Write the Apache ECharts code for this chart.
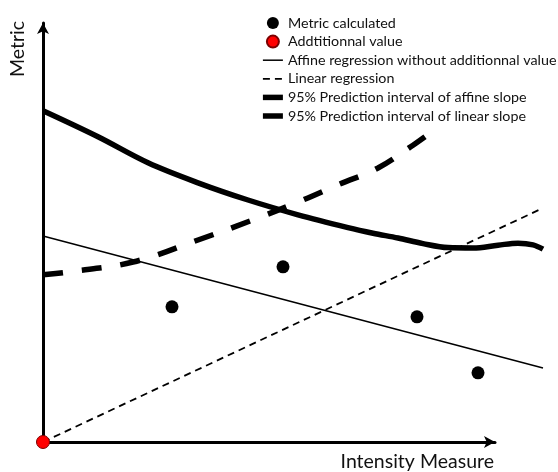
<!DOCTYPE html>
<html>
<head>
<meta charset="utf-8">
<style>
  html, body { margin: 0; padding: 0; background: #fff; }
  #chart { width: 558px; height: 472px; }
</style>
<script src="https://cdn.jsdelivr.net/npm/echarts@6/dist/echarts.min.js"></script>
</head>
<body>
<div id="chart"></div>
<script>
// Measured metric values (intensity measure, metric)
const metricX = [2.58, 4.8, 7.48, 8.7];
const metricY = [3.38, 4.38, 3.13, 1.73];

// Additional value at the origin
const extraX = [0];
const extraY = [0];

// Affine regression fitted without the additional value
const affineX = [0, 10];
const affineY = [5.15, 1.85];

// Linear regression through the origin
const linearX = [0, 10];
const linearY = [0, 5.85];

// 95% prediction interval bound of the affine slope
const piAffineX = [0, 1.1, 2.1, 3.1, 4.1, 5.1, 6.1, 6.6, 7.1, 7.6, 8.1, 8.6, 9.1, 9.5, 9.8, 10];
const piAffineY = [8.28, 7.63, 6.98, 6.48, 6.05, 5.68, 5.36, 5.22, 5.1, 4.96, 4.86, 4.85, 4.92, 4.97, 4.93, 4.82];

// 95% prediction interval bound of the linear slope
const piLinearX = [0, 0.5, 1.8, 3.1, 4.3, 5.2, 5.9, 6.7, 7.4, 7.64];
const piLinearY = [4.18, 4.25, 4.5, 5.05, 5.6, 6.05, 6.43, 6.85, 7.42, 7.63];

// Legend labels
const names = [
  'Metric calculated',
  'Addtitionnal value',
  'Affine regression without additionnal value',
  'Linear regression',
  '95% Prediction interval of affine slope',
  '95% Prediction interval of linear slope'
];

// Stroke styles shared by the series and their legend entries
const styleAffine = { color: '#000', width: 1.5, type: 'solid' };
const styleLinear = { color: '#000', width: 1.8, type: [7, 5] };
const stylePiAffine = { color: '#000', width: 5.5, type: 'solid' };
const stylePiLinear = { color: '#000', width: 5.5, type: [20, 19] };

// thick bar used as legend key for the prediction interval bounds
const THICK_KEY = 'path://M0,0L20,0L20,5.5L0,5.5Z';

const zip = (xs, ys) => xs.map((x, i) => [x, ys[i]]);
const FONT = 'Lato';

const chart = echarts.init(document.getElementById('chart'), null, { renderer: 'canvas' });

const hiddenAxis = {
  type: 'value', min: 0, max: 10,
  axisLine: { show: false }, axisTick: { show: false },
  axisLabel: { show: false }, splitLine: { show: false }
};

// thin line entries in the legend show only their stroke, no marker
const lineEntry = (name, ls) => ({ name, itemStyle: { opacity: 0 }, lineStyle: ls });

// legend key holder: shares the curve's name so the legend toggles both
const keySeries = (name) => ({
  name, type: 'scatter', data: [], symbol: THICK_KEY,
  itemStyle: { color: '#000', opacity: 1 }
});

chart.setOption({
  animation: false,
  backgroundColor: '#fff',
  color: ['#000'],
  grid: [
    // plotting area
    { left: 43, right: 15, top: 42, bottom: 30 },
    // arrowed axes
    { left: 43, right: 63, top: 23, bottom: 30 }
  ],
  xAxis: [
    Object.assign({ gridIndex: 0 }, hiddenAxis),
    {
      gridIndex: 1, type: 'value', min: 0, max: 1,
      axisLine: { show: true, symbol: ['none', 'arrow'], symbolSize: [9, 11],
        lineStyle: { color: '#000', width: 3 } },
      axisTick: { show: false }, axisLabel: { show: false }, splitLine: { show: false },
      name: 'Intensity Measure', nameLocation: 'end', nameGap: -1,
      nameTextStyle: { fontFamily: FONT, fontSize: 19.5, color: '#111',
        align: 'right', verticalAlign: 'top', padding: [10, 0, 0, 0] }
    }
  ],
  yAxis: [
    Object.assign({ gridIndex: 0 }, hiddenAxis),
    {
      gridIndex: 1, type: 'value', min: 0, max: 1,
      axisLine: { show: true, symbol: ['none', 'arrow'], symbolSize: [9, 11],
        lineStyle: { color: '#000', width: 3 } },
      axisTick: { show: false }, axisLabel: { show: false }, splitLine: { show: false },
      name: 'Metric', nameLocation: 'end', nameRotate: 90, nameGap: -26,
      nameTextStyle: { fontFamily: FONT, fontSize: 19.5, color: '#111',
        align: 'center', verticalAlign: 'bottom', padding: [0, 0, 15, 0] }
    }
  ],
  legend: {
    orient: 'vertical', left: 257, top: 11,
    itemWidth: 20, itemHeight: 12, itemGap: 4.6,
    symbolKeepAspect: true,
    textStyle: { fontFamily: FONT, fontSize: 14.3, lineHeight: 14, color: '#111' },
    data: [
      names[0],
      names[1],
      lineEntry(names[2], styleAffine),
      lineEntry(names[3], styleLinear),
      { name: names[4], icon: THICK_KEY },
      { name: names[5], icon: THICK_KEY }
    ]
  },
  series: [
    keySeries(names[4]),
    keySeries(names[5]),
    {
      name: names[2], type: 'line', data: zip(affineX, affineY),
      symbol: 'none', itemStyle: { color: '#000' },
      lineStyle: styleAffine, z: 3
    },
    {
      name: names[3], type: 'line', data: zip(linearX, linearY),
      symbol: 'none', itemStyle: { color: '#000' },
      lineStyle: styleLinear, z: 3
    },
    {
      name: names[4], type: 'line', data: zip(piAffineX, piAffineY),
      symbol: 'none', smooth: 0.35, itemStyle: { color: '#000' },
      lineStyle: stylePiAffine, z: 3
    },
    {
      name: names[5], type: 'line', data: zip(piLinearX, piLinearY),
      symbol: 'none', smooth: 0.4, itemStyle: { color: '#000' },
      lineStyle: stylePiLinear, z: 3
    },
    {
      name: names[0], type: 'scatter', data: zip(metricX, metricY),
      symbol: 'circle', symbolSize: 13, itemStyle: { color: '#000', opacity: 1 }, z: 4
    },
    {
      name: names[1], type: 'scatter', data: zip(extraX, extraY), clip: false,
      symbol: 'circle', symbolSize: 13,
      itemStyle: { color: '#f00', borderColor: '#7a0000', borderWidth: 1, opacity: 1 }, z: 5
    }
  ]
});
</script>
</body>
</html>
